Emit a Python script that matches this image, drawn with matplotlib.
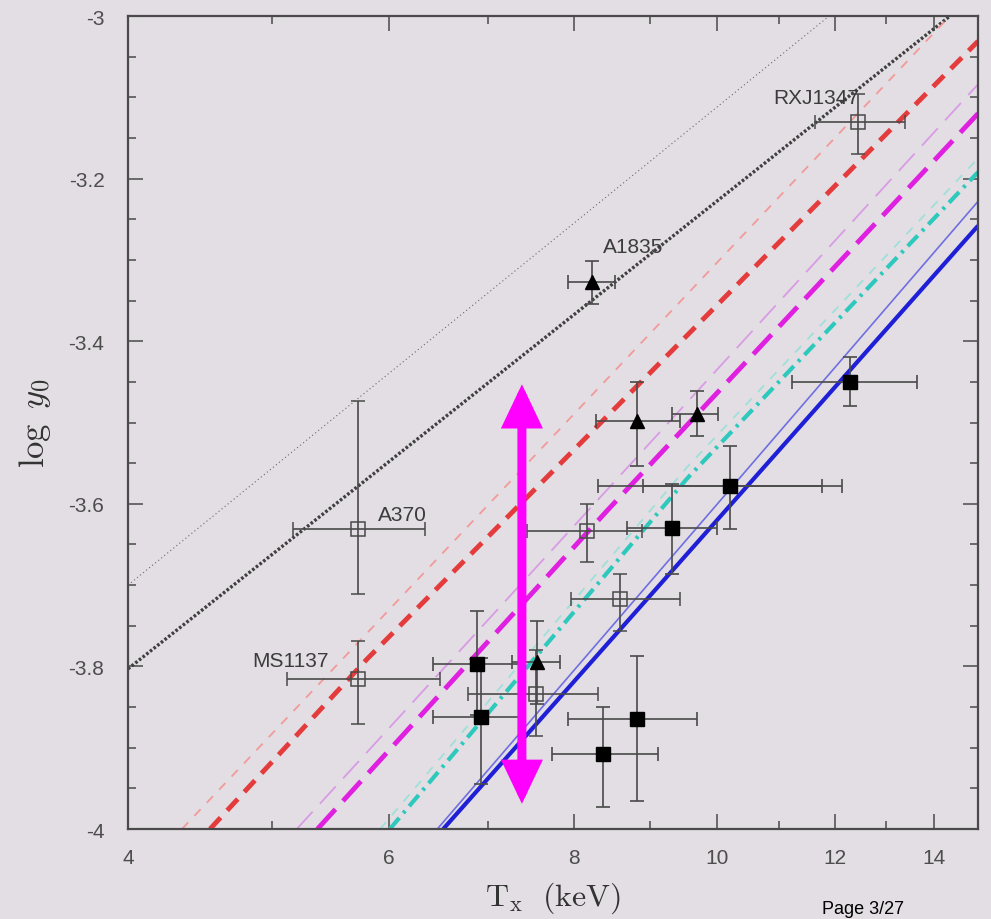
import numpy as np
import matplotlib.pyplot as plt
from matplotlib.ticker import FixedLocator, FixedFormatter, NullFormatter, MultipleLocator

plt.rcParams['mathtext.fontset'] = 'cm'
plt.rcParams['axes.unicode_minus'] = False
plt.rcParams['font.family'] = ['Liberation Sans', 'DejaVu Sans']

# filled squares: T_x (keV), log y0 and their error ranges
sq_T = np.array([12.29, 10.20, 9.32, 6.88, 6.92, 8.37, 8.83])
sq_y = np.array([-3.450, -3.578, -3.630, -3.797, -3.862, -3.908, -3.865])
sq_Tlo = np.array([11.24, 8.31, 8.69, 6.43, 6.43, 7.73, 7.93])
sq_Thi = np.array([13.64, 12.14, 10.00, 7.35, 7.41, 9.12, 9.69])
sq_ylo = np.array([-3.480, -3.631, -3.686, -3.860, -3.945, -3.973, -3.966])
sq_yhi = np.array([-3.419, -3.529, -3.576, -3.732, -3.790, -3.850, -3.787])

# second temperature range for the 10.2 keV cluster
alt_T = np.array([10.20])
alt_y = np.array([-3.578])
alt_Tlo = np.array([8.91])
alt_Thi = np.array([11.76])

# filled triangles
tri_T = np.array([8.23, 8.83, 9.69, 7.56])
tri_y = np.array([-3.327, -3.498, -3.490, -3.795])
tri_Tlo = np.array([7.93, 8.28, 9.32, 7.27])
tri_Thi = np.array([8.53, 9.44, 10.01, 7.83])
tri_ylo = np.array([-3.354, -3.553, -3.517, -3.846])
tri_yhi = np.array([-3.301, -3.450, -3.461, -3.744])

# open squares
op_T = np.array([12.45, 5.72, 5.72, 8.17, 8.60, 7.54])
op_y = np.array([-3.130, -3.631, -3.816, -3.633, -3.717, -3.834])
op_Tlo = np.array([11.64, 5.17, 5.12, 7.44, 7.97, 6.79])
op_Thi = np.array([13.39, 6.35, 6.50, 8.90, 9.44, 8.31])
op_ylo = np.array([-3.170, -3.711, -3.871, -3.672, -3.756, -3.886])
op_yhi = np.array([-3.096, -3.474, -3.769, -3.600, -3.686, -3.780])

cluster_names = ['RXJ1347', 'A1835', 'A370', 'MS1137']

# model curves, points along each relation
model_T = [
    [4.0, 11.9],
    [4.0, 14.36],
    [4.35, 14.36],
    [4.544, 5.80, 15.0],
    [5.20, 15.0],
    [5.37, 8.41, 15.0],
    [5.92, 9.54, 15.0],
    [6.01, 9.54, 15.0],
    [6.47, 15.0],
    [6.53, 15.0],
]
model_y = [
    [-3.70, -3.00],
    [-3.803, -3.00],
    [-4.00, -3.00],
    [-4.00, -3.791, -3.031],
    [-4.00, -3.084],
    [-4.00, -3.610, -3.120],
    [-4.00, -3.555, -3.175],
    [-4.00, -3.569, -3.192],
    [-4.00, -3.228],
    [-4.00, -3.258],
]
model_style = [
    dict(color='#6a6a6a', lw=0.8, dashes=(1, 2.5)),
    dict(color='#404040', lw=2.4, dashes=(0.8, 0.6)),
    dict(color='#f29a9a', lw=1.3, dashes=(5, 5)),
    dict(color='#e43c3c', lw=3.5, dashes=(3.2, 2.0)),
    dict(color='#d99be6', lw=1.3, dashes=(13, 6)),
    dict(color='#e020e0', lw=3.5, dashes=(5.5, 2.3)),
    dict(color='#9fe0da', lw=1.3, dashes=(5, 5)),
    dict(color='#2ec9bd', lw=3.0, dashes=(3.5, 1.5, 0.7, 1.5)),
    dict(color='#6f6fe2', lw=1.2),
    dict(color='#1f1fd8', lw=3.0),
]

bg = '#e2dee3'
ink = '#4a4a4a'

fig = plt.figure(figsize=(9.91, 9.20), dpi=100, facecolor=bg)
ax = fig.add_axes([0.1292, 0.0978, 0.8577, 0.8837], facecolor=bg)
ax.set_xscale('log')

for T, y, st in zip(model_T, model_y, model_style):
    ax.plot(T, y, solid_capstyle='butt', dash_capstyle='butt', zorder=2, **st)

eb = dict(ecolor=ink, elinewidth=1.2, capsize=5, capthick=1.2, linestyle='none', zorder=4)
ax.errorbar(alt_T, alt_y, xerr=[alt_T - alt_Tlo, alt_Thi - alt_T], fmt='none', **eb)
ax.errorbar(sq_T, sq_y, xerr=[sq_T - sq_Tlo, sq_Thi - sq_T],
            yerr=[sq_y - sq_ylo, sq_yhi - sq_y], fmt='s', ms=10,
            mfc='black', mec='black', **eb)
ax.errorbar(tri_T, tri_y, xerr=[tri_T - tri_Tlo, tri_Thi - tri_T],
            yerr=[tri_y - tri_ylo, tri_yhi - tri_y], fmt='^', ms=10,
            mfc='black', mec='black', **eb)
ax.errorbar(op_T, op_y, xerr=[op_T - op_Tlo, op_Thi - op_T],
            yerr=[op_y - op_ylo, op_yhi - op_y], fmt='s', ms=10,
            mfc='none', mec=ink, mew=1.1, **eb)

# cluster names
lab = dict(fontsize=15, color='#3c3c3c', va='center', zorder=5)
ax.text(12.48, -3.100, cluster_names[0], ha='right', **lab)
ax.text(8.37, -3.283, cluster_names[1], ha='left', **lab)
ax.text(5.90, -3.613, cluster_names[2], ha='left', **lab)
ax.text(4.85, -3.793, cluster_names[3], ha='left', **lab)

# double headed arrow
ax.annotate('', xy=(7.38, -3.453), xytext=(7.38, -3.969),
            arrowprops=dict(arrowstyle='<|-|>,head_length=1.05,head_width=0.5',
                            mutation_scale=20, lw=6.5, color='#ff00ff',
                            shrinkA=0, shrinkB=0, joinstyle='miter'),
            zorder=6)

ax.set_xlim(4, 15)
ax.set_ylim(-4, -3)

ax.xaxis.set_major_locator(FixedLocator([4, 6, 8, 10, 12, 14]))
ax.xaxis.set_major_formatter(FixedFormatter(['4', '6', '8', '10', '12', '14']))
ax.xaxis.set_minor_locator(FixedLocator([5, 7, 9, 11, 13]))
ax.xaxis.set_minor_formatter(NullFormatter())
ax.yaxis.set_major_locator(FixedLocator([-4, -3.8, -3.6, -3.4, -3.2, -3]))
ax.yaxis.set_major_formatter(FixedFormatter(['-4', '-3.8', '-3.6', '-3.4', '-3.2', '-3']))
ax.yaxis.set_minor_locator(MultipleLocator(0.05))

ax.tick_params(which='both', direction='in', top=True, right=True,
               color=ink, width=1.1, labelcolor='#4d4d4d', labelsize=15)
ax.tick_params(which='major', length=11)
ax.tick_params(which='minor', length=6)
ax.tick_params(axis='x', which='major', pad=14)
ax.tick_params(axis='y', which='major', pad=17)
for s in ax.spines.values():
    s.set_color(ink)
    s.set_linewidth(1.6)

fig.text(35 / 991, 1 - 423 / 920, r'$\log\ y_0$', rotation=90, ha='center',
         va='center', fontsize=25, color='#333333')
fig.text(553 / 991, 1 - 898 / 920, r'$\mathrm{T_x\ \ (keV)}$', ha='center',
         va='center', fontsize=23, color='#333333')
fig.text(822 / 991, 1 - 918 / 920, 'Page 3/27', ha='left', va='bottom',
         fontsize=13, color='black')

fig.savefig('out.png', dpi=100, facecolor=bg)
